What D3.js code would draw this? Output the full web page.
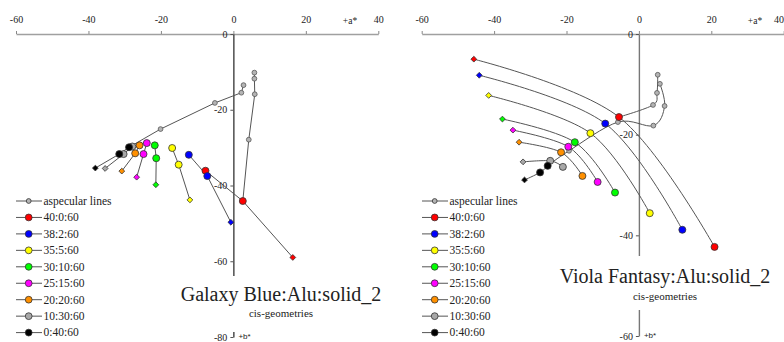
<!DOCTYPE html>
<html><head><meta charset="utf-8">
<script src="https://cdn.jsdelivr.net/npm/d3@7"></script>
<style>
html,body{margin:0;padding:0;background:#fff;}
svg text{font-family:"Liberation Serif","Times New Roman",serif !important;fill:#222;}
svg text.sans{font-family:"Liberation Sans",Arial,sans-serif !important;}
</style></head>
<body>
<svg id="chart" width="784" height="342" font-family="Liberation Serif, serif"></svg>
<script>
// ---------- DATA ----------
const seriesNames = ["40:0:60","38:2:60","35:5:60","30:10:60","25:15:60","20:20:60","10:30:60","0:40:60"];
const seriesColors = ["#ff0000","#0000ff","#ffff00","#00ff00","#ff00ff","#ff9000","#a8a8a8","#000000"];
const xTicks = [-60,-40,-20,0,20,40];

// Galaxy Blue (first point = diamond)
const galaxyTitle = "Galaxy Blue:Alu:solid_2";
const galaxyYTicks = [0,-20,-40,-60,-80];
const galaxyA = [
  [16.4, 2.6, -7.7],
  [-0.7, -7.2, -12.3],
  [-12.0, -15.1, -16.9],
  [-21.4, -21.3, -21.7],
  [-26.7, -24.8, -23.9],
  [-30.8, -27.1, -25.9],
  [-35.4, -30.3, -27.9],
  [-38.1, -31.5, -28.8]
];
const galaxyB = [
  [-59.0, -44.1, -36.1],
  [-49.7, -37.5, -31.9],
  [-43.8, -34.5, -30.1],
  [-39.8, -32.8, -29.4],
  [-37.8, -31.7, -28.8],
  [-36.2, -31.5, -29.4],
  [-35.5, -31.7, -29.7],
  [-35.4, -31.7, -29.9]
];
const galaxyAspecA = [[2.6, 4.25, 5.9, 5.8, 5.8], [-28.8, -20.1, -5.1, 2.2, 2.8]];
const galaxyAspecB = [[-44.1, -27.9, -15.9, -11.8, -10.2], [-29.9, -25.1, -18.2, -15.5, -13.5]];

// Viola Fantasy
const violaTitle = "Viola Fantasy:Alu:solid_2";
const violaYTicks = [0,-20,-40,-60];
const violaA = [
  [-45.6, -5.5, 20.9],
  [-44.1, -9.3, 12.0],
  [-41.5, -13.4, 3.0],
  [-37.7, -17.7, -6.6],
  [-34.8, -19.5, -11.4],
  [-33.1, -21.5, -15.6],
  [-32.0, -24.5, -21.0],
  [-31.6, -27.3, -25.2]
];
const violaB = [
  [-5.0, -16.5, -42.3],
  [-8.2, -17.8, -38.9],
  [-12.2, -19.7, -35.6],
  [-16.9, -21.5, -31.5],
  [-19.1, -22.4, -29.4],
  [-21.5, -23.5, -28.2],
  [-25.4, -25.2, -26.4],
  [-29.0, -27.5, -26.2]
];
const violaAspecA = [[-5.5, 3.9, 5.0, 5.2], [-25.2, -19.3, -5.8, 4.0, 7.1, 5.8]];
const violaAspecB = [[-16.5, -14.1, -11.7, -8.1], [-26.2, -23.2, -17.5, -18.2, -14.3, -9.9]];

const legendLabels = ["aspecular lines"].concat(seriesNames);

// ---------- DRAW ----------
const svg = d3.select("#chart");
const SERIF = "'Liberation Serif','Times New Roman',serif";

function panel(cfg){
  const g = svg.append("g");
  const x = d3.scaleLinear().domain([-60,40]).range(cfg.xr);
  const y = d3.scaleLinear().domain([0, cfg.yTicks[cfg.yTicks.length-1]]).range([34, cfg.yBottom]);

  // x axis (top, ticks up)
  const xa = g.append("g").attr("transform","translate(0,34)")
    .call(d3.axisTop(x).tickValues(xTicks).tickSize(3).tickSizeOuter(0).tickPadding(8).tickFormat(d3.format("d")));
  xa.attr("font-family", SERIF);
  xa.select(".domain").attr("stroke","#a0a0a0").attr("stroke-width",1.6);
  xa.selectAll(".tick line").attr("stroke","#888");
  xa.selectAll(".tick text").style("font-size","10px").attr("fill","#333")
    .text(d => d < 0 ? "-" + Math.abs(d) : d)
    .each(function(d){ if (cfg.clipLast && d === 40) d3.select(this).attr("text-anchor","end").attr("x", 783.5 - x(40)); });
  g.append("text").attr("x", cfg.aLabelX).attr("y",23.5).attr("text-anchor","middle")
    .style("font-size","9.5px").text("+a*");

  // y axis
  const ya = g.append("g").attr("transform",`translate(${x(0)},0)`)
    .call(d3.axisLeft(y).tickValues(cfg.yTicks).tickSize(3).tickSizeOuter(0).tickPadding(3));
  ya.attr("font-family", SERIF);
  ya.select(".domain").attr("stroke", cfg.yAxisColor).attr("stroke-width",cfg.yAxisWidth);
  ya.selectAll(".tick line").attr("stroke","#555");
  ya.selectAll(".tick text").style("font-size","10px").attr("fill","#333")
    .text(d => d < 0 ? "-" + Math.abs(d) : d);
  g.append("text").attr("class","sans").attr("x", x(0)+5).attr("y", cfg.yBottom+2).style("font-size","8px").text("+b*");

  const line = d3.line().x(d=>x(d[0])).y(d=>y(d[1])).curve(cfg.curve);

  // aspecular lines
  cfg.aspA.forEach((arr,k)=>{
    const pts = arr.map((a,i)=>[a, cfg.aspB[k][i]]);
    g.append("path").attr("d", line(pts)).attr("fill","none").attr("stroke","#555").attr("stroke-width",1);
    g.selectAll(null).data(pts.slice(1)).enter().append("circle")
      .attr("cx",d=>x(d[0])).attr("cy",d=>y(d[1])).attr("r",2.4)
      .attr("fill","#b4b4b4").attr("stroke","#555").attr("stroke-width",0.8);
  });

  // series
  cfg.A.forEach((arr,s)=>{
    const pts = arr.map((a,i)=>[a, cfg.B[s][i]]);
    g.append("path").attr("d", line(pts)).attr("fill","none").attr("stroke","#555").attr("stroke-width",1);
  });
  cfg.A.forEach((arr,s)=>{
    const pts = arr.map((a,i)=>[a, cfg.B[s][i]]);
    const d0 = pts[0];
    const r = 2.9;
    g.append("path")
      .attr("d", `M${x(d0[0])},${y(d0[1])-r}L${x(d0[0])+r},${y(d0[1])}L${x(d0[0])},${y(d0[1])+r}L${x(d0[0])-r},${y(d0[1])}Z`)
      .attr("fill", seriesColors[s]).attr("stroke","#333").attr("stroke-width",0.8);
    g.selectAll(null).data(pts.slice(1)).enter().append("circle")
      .attr("cx",d=>x(d[0])).attr("cy",d=>y(d[1])).attr("r",3.5)
      .attr("fill", seriesColors[s]).attr("stroke","#333").attr("stroke-width",0.8);
  });

  // title box
  g.append("rect").attr("x",cfg.titleX-110).attr("y",cfg.boxY0).attr("width",220).attr("height",cfg.boxY1-cfg.boxY0).attr("fill","#fff");
  g.append("text").attr("x",cfg.titleX).attr("y",cfg.titleY).attr("text-anchor","middle")
    .style("font-size","20px").attr("fill","#111").text(cfg.title);
  g.append("text").attr("x",cfg.titleX).attr("y",cfg.titleY+16.5).attr("text-anchor","middle")
    .style("font-size","11px").text("cis-geometries");

  // legend
  const lg = g.append("g");
  legendLabels.forEach((t,i)=>{
    const yy = 201 + i*16.45;
    lg.append("line").attr("x1",cfg.legX).attr("x2",cfg.legX+26).attr("y1",yy).attr("y2",yy)
      .attr("stroke","#555").attr("stroke-width",1);
    lg.append("circle").attr("cx",cfg.legX+12.7).attr("cy",yy).attr("r", i===0?2.4:3.4)
      .attr("fill", i===0?"#b4b4b4":seriesColors[i-1]).attr("stroke","#333").attr("stroke-width",0.8);
    lg.append("text").attr("x",cfg.legX+27.5).attr("y",yy+3.8).style("font-size","11.5px").attr("fill","#333").text(t);
  });
}

panel({xr:[16,378.3], yTicks:galaxyYTicks, yBottom:337, aLabelX:350, yAxisColor:"#222", yAxisWidth:1.2,
  curve:d3.curveLinear, A:galaxyA, B:galaxyB, aspA:galaxyAspecA, aspB:galaxyAspecB,
  title:galaxyTitle, titleX:281, titleY:300.5, boxY0:276, boxY1:332, legX:16, clipLast:false});
panel({xr:[421.7,783.7], yTicks:violaYTicks, yBottom:336, aLabelX:755, yAxisColor:"#777", yAxisWidth:1.4,
  curve:d3.curveCardinal.tension(0), A:violaA, B:violaB, aspA:violaAspecA, aspB:violaAspecB,
  title:violaTitle, titleX:665, titleY:283, boxY0:256, boxY1:310, legX:422, clipLast:true});
</script>
</body></html>
